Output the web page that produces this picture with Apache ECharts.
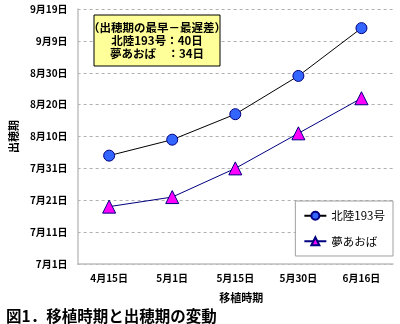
<!DOCTYPE html>
<html><head><meta charset="utf-8">
<script src="https://cdn.jsdelivr.net/npm/echarts@6/dist/echarts.min.js"></script>
<style>html,body{margin:0;padding:0;background:#fff}#c{width:400px;height:324px}</style>
</head><body><div id="c"></div>
<script>
const categories = ['4月15日','5月1日','5月15日','5月30日','6月16日'];
// days after 7月1日
const hokuriku = [34, 39, 47, 59, 74];
const yumeaoba = [18, 21, 30, 41, 52];
const yTickLabels = ['7月1日','7月11日','7月21日','7月31日','8月10日','8月20日','8月30日','9月9日','9月19日'];
const seriesNames = ['北陸193号','夢あおば'];
const noteLines = ['（出穂期の最早－最遅差）','北陸193号：40日','夢あおば　：34日'];
const FF = '"Noto Sans CJK JP", sans-serif';

const chart = echarts.init(document.getElementById('c'), null, {renderer:'canvas'});
chart.setOption({
  animation:false,
  backgroundColor:'#fff',
  grid:{left:70,right:7,top:9,bottom:60},
  xAxis:{
    type:'category', data:categories, boundaryGap:true,
    axisLine:{lineStyle:{color:'#c0c0c0',width:1.5}},
    axisTick:{inside:true,length:4,lineStyle:{color:'#c0c0c0'}},
    axisLabel:{color:'#000',fontSize:10,fontWeight:'bold',fontFamily:FF,margin:9},
    name:'移植時期', nameLocation:'middle', nameGap:28,
    nameTextStyle:{color:'#000',fontSize:11,fontWeight:'bold',fontFamily:FF,padding:[0,0,0,12]}
  },
  yAxis:{
    type:'value', min:0, max:80, interval:10,
    axisLine:{show:true,lineStyle:{color:'#c0c0c0',width:1.5}},
    axisTick:{show:false},
    axisLabel:{color:'#000',fontSize:10,fontWeight:'bold',fontFamily:FF,margin:10,
      formatter:v=>yTickLabels[Math.round(v/10)]},
    splitLine:{lineStyle:{color:'#b0b0b0',type:[3,3]}},
    name:'出穂期', nameLocation:'middle', nameGap:56,
    nameTextStyle:{color:'#000',fontSize:11,fontWeight:'bold',fontFamily:FF}
  },
  legend:{
    orient:'vertical', right:7, top:201,
    backgroundColor:'#fff', borderColor:'#a0a0a0', borderWidth:1,
    padding:[9,8,9,8], itemGap:14, itemWidth:22, itemHeight:10,
    textStyle:{color:'#000',fontSize:11.5,fontFamily:FF},
    data:seriesNames
  },
  series:[
    {name:seriesNames[0], type:'line', data:hokuriku, symbol:'circle', symbolSize:11,
     lineStyle:{color:'#000',width:1}, itemStyle:{color:'#3366ff',borderColor:'#000080',borderWidth:1}},
    {name:seriesNames[1], type:'line', data:yumeaoba, symbol:'triangle', symbolSize:13,
     lineStyle:{color:'#000080',width:1}, itemStyle:{color:'#ff00ff',borderColor:'#000080',borderWidth:1}}
  ],
  graphic:[
    {type:'rect', shape:{x:94,y:15,width:126,height:51}, style:{fill:'#ffff99',stroke:'#000',lineWidth:1}, z:10},
    {type:'text', x:157, y:28, style:{text:noteLines[0],fill:'#000',font:'bold 11.5px '+FF,align:'center',verticalAlign:'middle'}, z:11},
    {type:'text', x:157, y:41, style:{text:noteLines[1],fill:'#000',font:'bold 11.5px '+FF,align:'center',verticalAlign:'middle'}, z:11},
    {type:'text', x:157, y:54, style:{text:noteLines[2],fill:'#000',font:'bold 11.5px '+FF,align:'center',verticalAlign:'middle'}, z:11},
    {type:'text', x:6, y:316, style:{text:'図1．移植時期と出穂期の変動',fill:'#000',font:'bold 15.5px '+FF,verticalAlign:'middle'}, z:11}
  ]
});
</script></body></html>
